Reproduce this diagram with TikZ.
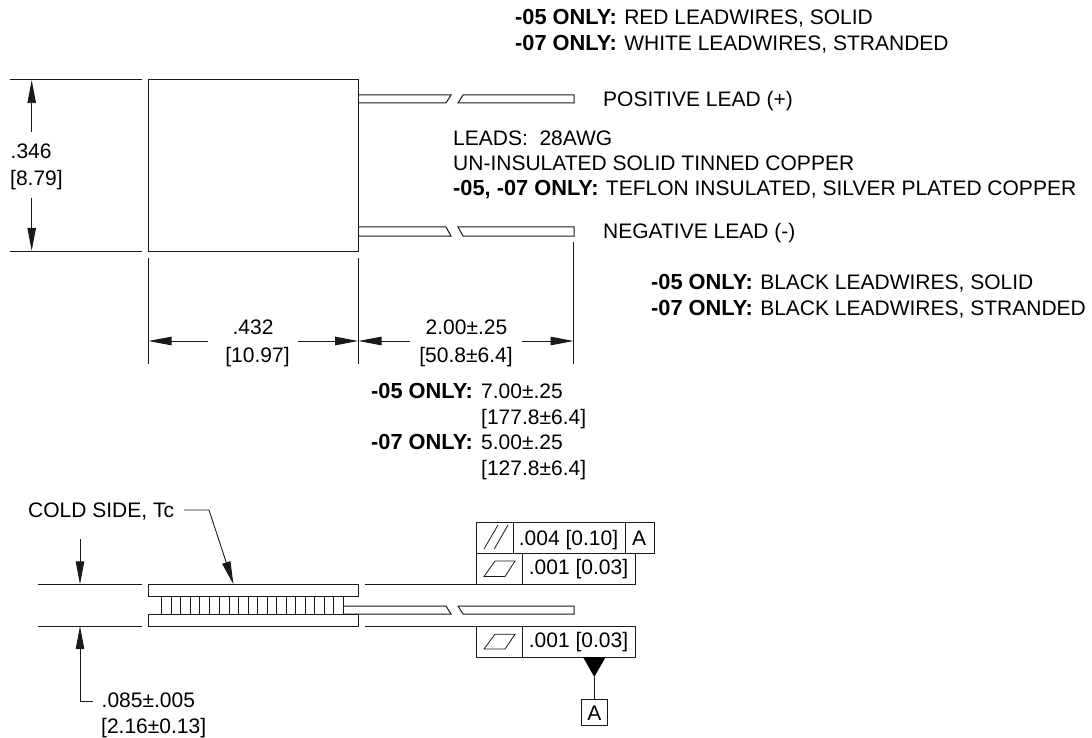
\documentclass[tikz,border=0pt]{standalone}
\usepackage{fontspec}
\setmainfont{Liberation Sans}
\usetikzlibrary{arrows.meta}
\tikzstyle{ln}=[line width=1pt, black!90]
\tikzstyle{thin}=[line width=0.8pt, black!90]
\tikzstyle{dim}=[line width=0.9pt, black!90, -{Triangle[length=23pt,width=8.5pt]}]
\tikzstyle{txt}=[inner sep=0pt, anchor=west, text height=15pt, text depth=0pt, font=\fontsize{21}{21}\selectfont]
\tikzstyle{ctr}=[txt, anchor=center]
\tikzstyle{pt}=[inner sep=0pt, minimum size=0pt]
\def\oB#1{{\fontsize{21.8}{21.8}\selectfont\bfseries #1}\hspace{1.5pt}}
\begin{document}
\begin{tikzpicture}[x=1pt,y=-1pt]
    \useasboundingbox (0,0) rectangle (1092,738);

    % top view
    \node [pt] (b1) at (148,80) {};
    \node [pt] (b2) at (358,251) {};
    \draw [ln] (b1) rectangle (b2);
    \draw [ln] (358,95) -- (451,95) -- (446,103) -- (358,103);
    \draw [ln] (463,95) -- (458,103) -- (574,103) -- (574,95) -- cycle;
    \draw [ln] (358,227) -- (446,227) -- (451,236) -- (358,236);
    \draw [ln] (458,227) -- (463,236) -- (574,236) -- (574,227) -- cycle;

    \node [txt] (pos) at (603,99) {POSITIVE LEAD (+)};
    \node [txt] (neg) at (603,231) {NEGATIVE LEAD (-)};
    \node [txt] (r1) at (515,17) {\oB{-05 ONLY:} RED LEADWIRES, SOLID};
    \node [txt] (r2) at (515,43) {\oB{-07 ONLY:} WHITE LEADWIRES, STRANDED};
    \node [txt] (l1) at (453,138) {LEADS:\ \ 28AWG};
    \node [txt] (l2) at (453,163) {UN-INSULATED SOLID TINNED COPPER};
    \node [txt] (l3) at (453,188) {\oB{-05, -07 ONLY:} TEFLON INSULATED, SILVER PLATED COPPER};
    \node [txt] (k1) at (651,282) {\oB{-05 ONLY:} BLACK LEADWIRES, SOLID};
    \node [txt] (k2) at (651,308) {\oB{-07 ONLY:} BLACK LEADWIRES, STRANDED};

    % height
    \draw [ln] (9.5,80) -- (142,80);
    \draw [ln] (9.5,251) -- (142,251);
    \node [txt] (hgt) at (10.5,151) {.346};
    \node [txt] (hgm) at (10,178) {[8.79]};
    \node [pt] (h1) at (31.7,132) {};
    \node [pt] (h2) at (31.7,198) {};
    \node [pt] (h3) at (31.7,80) {};
    \node [pt] (h4) at (31.7,251) {};
    \draw [dim] (h1) -- (h3);
    \draw [dim] (h2) -- (h4);

    % width
    \draw [ln] (148.3,258) -- (148.3,364);
    \draw [ln] (358.3,258) -- (358.3,364);
    \draw [ln] (573.7,242) -- (573.7,364);
    \node [ctr] (wd) at (253,327) {.432};
    \node [ctr] (wm) at (257.5,355) {[10.97]};
    \node [ctr] (ld) at (466.5,327) {2.00±.25};
    \node [ctr] (lm) at (466,355) {[50.8±6.4]};
    \node [pt] (w0) at (148.3,341) {};
    \node [pt] (w1) at (208,341) {};
    \node [pt] (w2) at (298,341) {};
    \node [pt] (w3) at (358.3,341) {};
    \node [pt] (w4) at (410,341) {};
    \node [pt] (w5) at (522,341) {};
    \node [pt] (w6) at (573.7,341) {};
    \draw [dim] (w1) -- (w0);
    \draw [dim] (w2) -- (w3);
    \draw [dim] (w4) -- (w3);
    \draw [dim] (w5) -- (w6);

    \node [txt] (o5) at (371,391) {\oB{-05 ONLY:}};
    \node [txt] (v1) at (481,391) {7.00±.25};
    \node [txt] (v2) at (481,417) {[177.8±6.4]};
    \node [txt] (o7) at (371,442) {\oB{-07 ONLY:}};
    \node [txt] (v3) at (481,442) {5.00±.25};
    \node [txt] (v4) at (481,468) {[127.8±6.4]};

    % side view
    \draw [ln] (148,584.5) rectangle (358,596);
    \draw [ln] (148,614) rectangle (358,626.5);
    \foreach \i in {0,...,9}
        \draw [ln] (161.7+19.1*\i,596) rectangle (171.7+19.1*\i,614);
    \draw [ln] (344,606) -- (446,606) -- (451,614) -- (344,614);
    \draw [ln] (458,606) -- (463,614) -- (574,614) -- (574,606) -- cycle;

    \draw [ln] (38,584.5) -- (142,584.5);
    \draw [ln] (38,626.5) -- (142,626.5);
    \draw [ln] (365,584.5) -- (476,584.5);
    \draw [ln] (365,626.5) -- (476,626.5);

    \node [pt] (a1) at (80,539) {};
    \node [pt] (a2) at (80,584.5) {};
    \node [pt] (a3) at (80,626) {};
    \node [pt] (a4) at (93,701) {};
    \draw [dim] (a1) -- (a2);
    \draw [dim] (a4) -| (a3);
    \node [txt] (thk) at (101.5,700) {.085±.005};
    \node [txt] (thm) at (101,726) {[2.16±0.13]};

    \node [txt] (cold) at (28,510) {COLD SIDE, Tc};
    \node [pt] (c0) at (184,510) {};
    \node [pt] (c1) at (209,510) {};
    \node [pt] (c2) at (233.5,584.5) {};
    \draw [dim] (c0) -- (c1) -- (c2);

    % control frames
    \draw [ln] (476,522.7) rectangle (654.3,553);
    \draw [ln] (513.3,522.7) -- (513.3,553);
    \draw [ln] (625.7,522.7) -- (625.7,553);
    \draw [ln] (476,553) rectangle (635,584.5);
    \draw [ln] (522.7,553) -- (522.7,584.5);
    \draw [ln] (476,626.5) rectangle (635,657);
    \draw [ln] (522.7,626.5) -- (522.7,657);
    \draw [thin] (484,576.5) -- (505,576.5) -- (515,561) -- (495,561) -- cycle;
    \draw [thin] (484,649) -- (505,649) -- (515,634.3) -- (495,634.3) -- cycle;
    \draw [thin] (484,549) -- (498,525);
    \draw [thin] (494.3,549) -- (508,525);

    \node [ctr] (f1) at (568.5,538) {.004 [0.10]};
    \node [ctr] (f2) at (639,538) {A};
    \node [ctr] (f3) at (578.5,567) {.001 [0.03]};
    \node [ctr] (f4) at (578.5,640) {.001 [0.03]};

    \fill [black] (583,657) -- (605.7,657) -- (594.3,677) -- cycle;
    \node [ctr, draw, line width=1pt, draw=black!90, minimum size=26pt] (dat) at (594.3,712.5) {A};
    \draw [ln] (594.3,677) -- (dat);
\end{tikzpicture}
\end{document}
